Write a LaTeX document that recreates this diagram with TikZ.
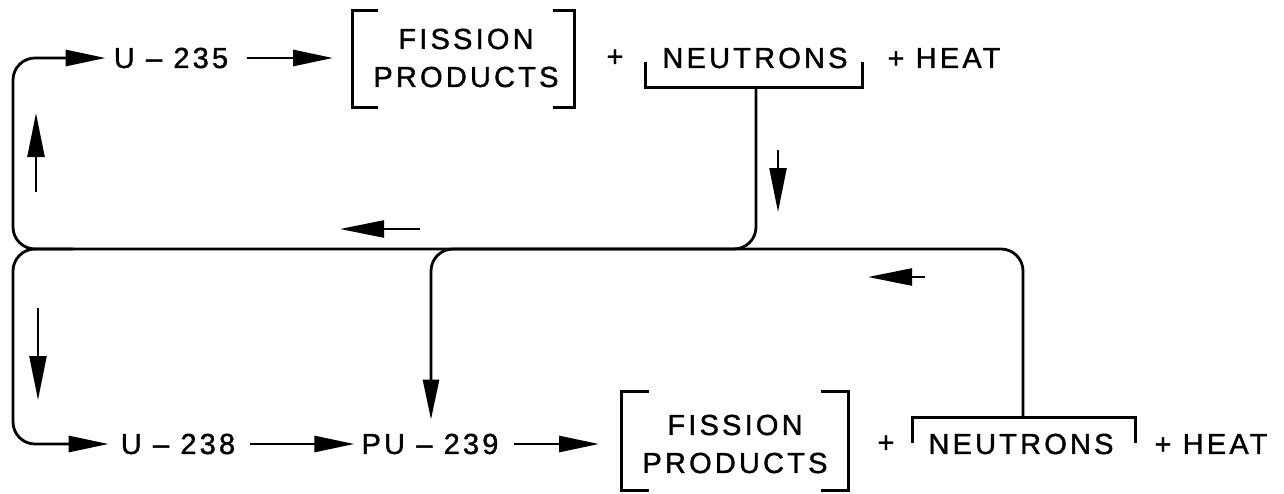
\documentclass[tikz,border=0pt]{standalone}
\usepackage{fontspec}
\setmainfont{Liberation Sans}[LetterSpace=11,FakeBold=1.3]
\usetikzlibrary{arrows.meta}
\begin{document}
\begin{tikzpicture}[x=1pt,y=-1pt,
  txt/.style={font=\fontsize{29}{38}\selectfont, inner sep=0pt, anchor=center},
  flow/.style={line width=2.8pt, rounded corners=22pt},
  brk/.style={line width=3pt},
  >={Triangle[length=40pt,width=16pt]},
  rowarr/.style={line width=2.8pt,->},
  ind/.style={line width=2.4pt,->,>={Triangle[length=44pt,width=17pt]}}]
\useasboundingbox (0,0) rectangle (1284,493);

% ---------- top row ----------
\node[txt] (u235) at (171,58) {U \textendash\ 235};
\node[txt, align=center] (fp1) at (466,58) {FISSION\\PRODUCTS};
\node[txt] (p1) at (615,58) {+};
\node[txt] (n1) at (755,58) {NEUTRONS};
\node[txt] (h1) at (944,58) {+ HEAT};

\coordinate (b1l) at (352,58);
\draw[brk] (378,10) -- (352,10) -- (352,107) -- (378,107);
\draw[brk] (553,10) -- (574,10) -- (574,107) -- (553,107);
\draw[brk] (645,62) -- (645,87) -- (862,87) -- (862,62);
\coordinate (s1) at (756,87);

\draw[rowarr] ([xshift=19pt]u235.east) -- ([xshift=-19pt]b1l);

% ---------- bottom row ----------
\node[txt] (u238) at (178,444) {U \textendash\ 238};
\node[txt] (pu239) at (430,444) {PU \textendash\ 239};
\node[txt, align=center] (fp2) at (735,444) {FISSION\\PRODUCTS};
\node[txt] (p2) at (886,444) {+};
\node[txt] (n2) at (1021,444) {NEUTRONS};
\node[txt] (h2) at (1211,444) {+ HEAT};

\coordinate (b2l) at (621,444);
\draw[brk] (649,391) -- (621,391) -- (621,490) -- (649,490);
\draw[brk] (821,391) -- (848,391) -- (848,490) -- (821,490);
\draw[brk] (912,443) -- (912,417) -- (1135,417) -- (1135,443);
\coordinate (s2) at (1023,417);

\draw[rowarr] ([xshift=15pt]u238.east) -- ([xshift=-7pt]pu239.west);
\draw[rowarr] ([xshift=15pt]pu239.east) -- ([xshift=-22pt]b2l);

% ---------- recycling lines ----------
\coordinate (jl) at (13,249);
\coordinate (jr) at (431,249);
\coordinate (tipU5) at ([xshift=-8pt]u235.west);
\coordinate (tipU8) at ([xshift=-12pt]u238.west);
\coordinate (tipPU) at ([yshift=14pt]pu239.north);

\draw[flow,->] (s1) -- (s1 |- jl) -- (jl) -- (jl |- tipU5) -- (tipU5);
\draw[flow,->] ([xshift=60pt]jl) -- (jl) -- (jl |- tipU8) -- (tipU8);
\draw[flow,->] (s2) -- (s2 |- jr) -- (jr) -- (jr |- tipPU);

% ---------- direction indicators ----------
\draw[ind] (778,150) -- (778,212);
\draw[ind] (420,229) -- (340,229);
\draw[ind] (36,192) -- (36,113);
\draw[ind] (38,308) -- (38,400);
\draw[ind] (925,277) -- (868,277);
\end{tikzpicture}
\end{document}
